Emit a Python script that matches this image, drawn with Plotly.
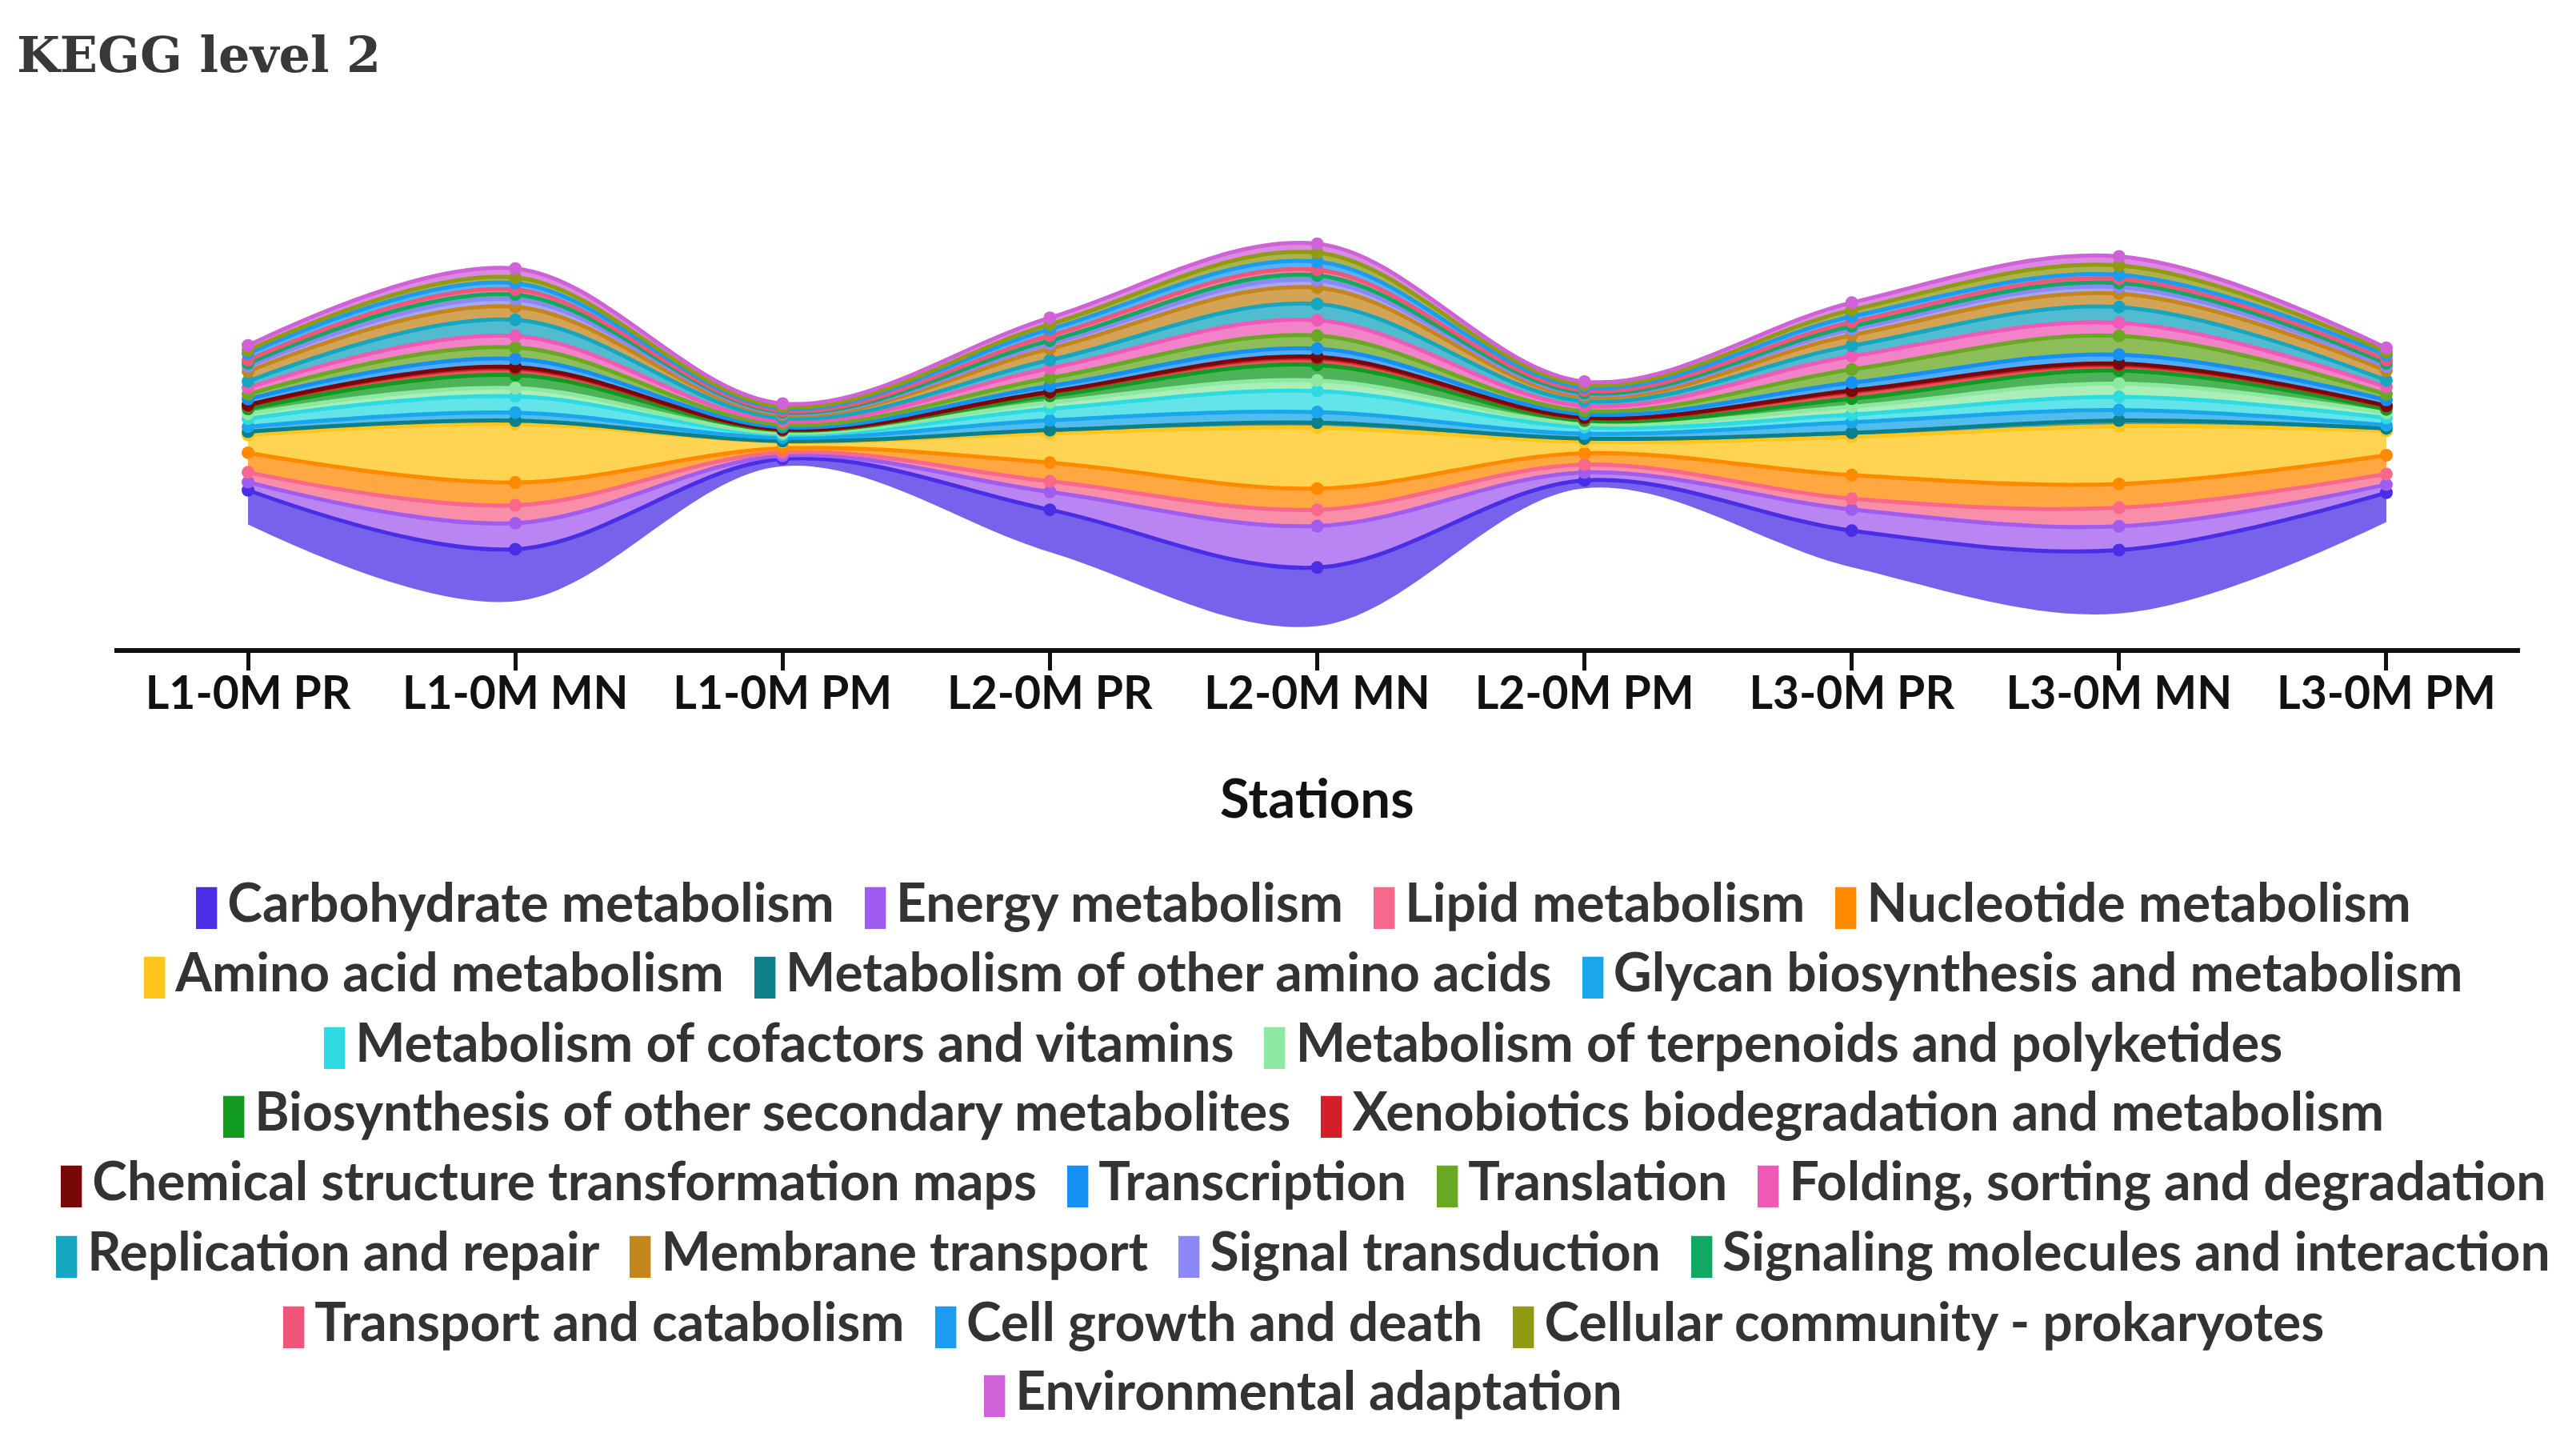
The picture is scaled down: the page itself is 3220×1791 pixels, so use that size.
import numpy as np
import plotly.graph_objects as go

stations = ["L1-0M PR", "L1-0M MN", "L1-0M PM", "L2-0M PR", "L2-0M MN",
            "L2-0M PM", "L3-0M PR", "L3-0M MN", "L3-0M PM"]

# relative abundance per station (bottom layer first)
carbohydrate = [21, 32, 4.5, 26, 36, 4.8, 22.5, 39, 18]
energy = [5, 16, 2, 11, 25.5, 4.9, 13, 14.6, 5]
lipid = [6, 11, 2, 6.5, 10, 4.8, 6.6, 11.4, 6.5]
nucleotide = [12, 14, 2.5, 11.5, 13, 7, 14.5, 14.6, 11.5]
amino_acid = [11, 36, 4, 18, 37.5, 7, 23.5, 35.6, 15]
other_amino_acids = [2, 2, 0.5, 2, 3, 2, 2.5, 3.4, 1.5]
glycan = [3, 5, 2, 6, 6.5, 3, 6.5, 6.4, 2]
cofactors = [5, 10, 2, 7, 13, 4, 4.7, 8.1, 4.5]
terpenoids = [3, 5, 1, 4, 6.5, 2, 4.9, 8.2, 3]
secondary_metabolites = [3, 8, 1.5, 4, 9.5, 2, 4.9, 8, 2.2]
xenobiotics = [2, 4, 0.5, 2, 4, 1.5, 4.2, 3.3, 1.8]
chemical_structure = [0.5, 1, 0.2, 0.5, 1, 0.5, 0.8, 1, 0.5]
transcription = [3.5, 5, 1.3, 3.5, 5, 2, 4.8, 5.5, 3.5]
translation = [3, 7, 1.5, 5, 8, 2, 8.1, 11.5, 3.5]
folding = [4, 7, 2, 6, 9.5, 3, 8.2, 8, 4.5]
replication = [4, 10, 2, 5, 10, 3, 6.4, 9.7, 4]
membrane_transport = [6, 8, 2, 7, 10, 2.5, 6.5, 8.3, 6]
signal_transduction = [3, 4.5, 1, 3, 4.5, 1.5, 3.5, 4, 2.5]
signaling_molecules = [2, 3, 0.7, 2, 3, 1, 2, 2.5, 2]
transport_catabolism = [2, 3, 0.8, 3, 3.5, 1.5, 2.5, 2.5, 2]
cell_growth = [4, 4, 1.5, 4, 5, 2, 3.5, 2.5, 3]
cellular_community = [2, 3.5, 1, 3, 5.5, 1.5, 4, 5.8, 2]
environmental_adaptation = [3, 5.5, 2, 4, 5.5, 2, 4.5, 5.6, 2.5]

series = [
    ("Carbohydrate metabolism", carbohydrate, "#4a2ee6"),
    ("Energy metabolism", energy, "#a05cef"),
    ("Lipid metabolism", lipid, "#f7688c"),
    ("Nucleotide metabolism", nucleotide, "#ff8a00"),
    ("Amino acid metabolism", amino_acid, "#ffc51a"),
    ("Metabolism of other amino acids", other_amino_acids, "#0e7f88"),
    ("Glycan biosynthesis and metabolism", glycan, "#1aa6ea"),
    ("Metabolism of cofactors and vitamins", cofactors, "#2fdbe2"),
    ("Metabolism of terpenoids and polyketides", terpenoids, "#8ee8a2"),
    ("Biosynthesis of other secondary metabolites", secondary_metabolites, "#109a20"),
    ("Xenobiotics biodegradation and metabolism", xenobiotics, "#d31f2a"),
    ("Chemical structure transformation maps", chemical_structure, "#780808"),
    ("Transcription", transcription, "#168ff5"),
    ("Translation", translation, "#68a822"),
    ("Folding, sorting and degradation", folding, "#ee5ab6"),
    ("Replication and repair", replication, "#17a6c0"),
    ("Membrane transport", membrane_transport, "#c4861c"),
    ("Signal transduction", signal_transduction, "#8c88f8"),
    ("Signaling molecules and interaction", signaling_molecules, "#10a862"),
    ("Transport and catabolism", transport_catabolism, "#ef5679"),
    ("Cell growth and death", cell_growth, "#1c9bf0"),
    ("Cellular community - prokaryotes", cellular_community, "#909a12"),
    ("Environmental adaptation", environmental_adaptation, "#d062d8"),
]
legend_rows = [4, 3, 2, 2, 4, 4, 3, 1]


def rgba(hex_color, a):
    h = hex_color.lstrip("#")
    return "rgba(%d,%d,%d,%.2f)" % (int(h[0:2], 16), int(h[2:4], 16), int(h[4:6], 16), a)


values = np.array([s[1] for s in series], dtype=float)
total = values.sum(axis=0)
base = -total / 2  # centred (silhouette) streamgraph
tops = base + np.cumsum(values, axis=0)

fig = go.Figure()
fig.add_trace(go.Scatter(x=stations, y=base, mode="lines", line=dict(width=0, shape="spline"),
                         hoverinfo="skip", showlegend=False))
for (name, vals, color), top in zip(series, tops):
    fig.add_trace(go.Scatter(
        x=stations, y=top, name=name, mode="lines+markers", fill="tonexty",
        fillcolor=rgba(color, 0.75),
        line=dict(color=color, width=5, shape="spline", smoothing=1),
        marker=dict(color=color, size=16),
        customdata=vals, hovertemplate="%{customdata}<extra>" + name + "</extra>",
        showlegend=False))

# legend rows as centred annotations
row_px = [1118, 1205, 1293, 1379, 1467, 1554, 1642, 1728]
plot_top, plot_bottom = 198, 802
i = 0
for n, ypx in zip(legend_rows, row_px):
    parts = []
    for name, _, color in series[i:i + n]:
        parts.append("<span style='color:%s'>▮</span>\u2009%s" % (color, name))
    i += n
    fig.add_annotation(text="\u2002".join(parts), xref="paper", yref="paper",
                       x=0.4935, y=(plot_bottom - ypx) / (plot_bottom - plot_top),
                       xanchor="center", yanchor="middle", showarrow=False,
                       font=dict(family="Lato", size=66, color="#333333", weight="bold"))

fig.add_annotation(text="Stations", xref="paper", yref="paper", x=0.5,
                   y=(plot_bottom - 988) / (plot_bottom - plot_top),
                   xanchor="center", yanchor="middle", showarrow=False,
                   font=dict(family="Lato", size=67, color="#111111", weight="bold"))

fig.update_layout(
    width=3220, height=1791,
    paper_bgcolor="white", plot_bgcolor="white",
    margin=dict(l=135, r=78, t=plot_top, b=1791 - plot_bottom),
    title=dict(text="KEGG level 2", x=0.004, xref="container", xanchor="left",
               y=1 - 60 / 1791, yref="container", yanchor="middle",
               font=dict(family="DejaVu Serif", size=62, color="#383838", weight="bold")),
    xaxis=dict(type="category", range=[-0.5, 8.5], showline=True, linecolor="#111111",
               linewidth=6, ticks="outside", ticklen=22, tickwidth=5, tickcolor="#111111",
               showgrid=False, zeroline=False, ticklabelstandoff=-20,
               tickfont=dict(family="Lato", size=57, color="#111111", weight="bold")),
    yaxis=dict(range=[-131, 166], visible=False, showgrid=False, zeroline=False),
    showlegend=False,
)

fig.write_html("out.html")
